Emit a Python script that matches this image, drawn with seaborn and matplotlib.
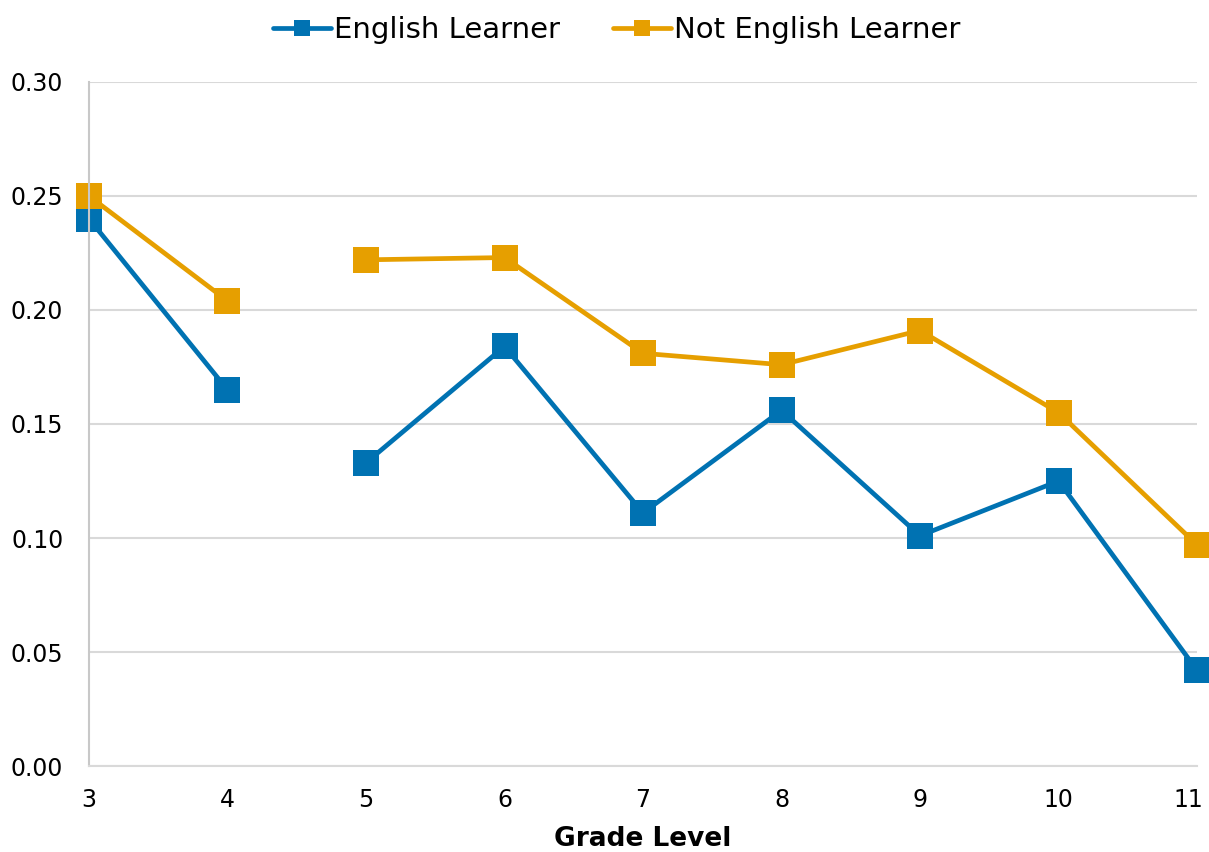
import pandas as pd
import seaborn as sns
import matplotlib.pyplot as plt
import matplotlib.transforms as mtransforms

grades = [3, 4, 5, 6, 7, 8, 9, 10, 11]
english_learner = [0.240, 0.165, 0.133, 0.184, 0.111, 0.156, 0.101, 0.125, 0.042]
not_english_learner = [0.250, 0.204, 0.222, 0.223, 0.181, 0.176, 0.191, 0.155, 0.097]
# the line breaks between grade 4 and grade 5
segments = [1, 1, 2, 2, 2, 2, 2, 2, 2]

groups = ['English Learner', 'Not English Learner']
colors = ['#0072B2', '#E69F00']

rows = []
for name, vals in zip(groups, [english_learner, not_english_learner]):
    for g, v, s in zip(grades, vals, segments):
        rows.append({'grade': g, 'value': v, 'group': name, 'segment': s})
df = pd.DataFrame(rows)

sns.set_style('white')
plt.rcParams['font.family'] = ['DejaVu Sans']
plt.rcParams['text.color'] = 'black'
plt.rcParams['axes.labelcolor'] = 'black'

fig = plt.figure(figsize=(12.09, 8.52), dpi=100)
ax = fig.add_axes([0.0736, 0.1009, 0.9165, 0.8029])

sns.lineplot(data=df, x='grade', y='value', hue='group', units='segment',
             estimator=None, palette=colors, marker='s', markersize=19,
             markeredgewidth=0, linewidth=3.4, ax=ax, legend=False, clip_on=False)

yticks = [0, 0.05, 0.10, 0.15, 0.20, 0.25, 0.30]
ax.set_xlim(3, 11)
ax.set_ylim(0, 0.30)
ax.set_yticks(yticks)
ax.set_yticklabels([f'{t:.2f}' for t in yticks])
ax.set_xticks(grades)
ax.grid(axis='y', color='#d9d9d9', linewidth=1.5)
ax.set_axisbelow(True)
for side in ['top', 'right']:
    ax.spines[side].set_visible(False)
ax.spines['left'].set_color('#c8c8c8')
ax.spines['left'].set_linewidth(1.5)
ax.spines['bottom'].set_color('#d9d9d9')
ax.spines['bottom'].set_linewidth(1.5)
ax.tick_params(axis='y', length=6.5, width=1.5, color='#c8c8c8', labelsize=17, pad=12,
               labelcolor='black')
ax.tick_params(axis='x', length=0, labelsize=17, pad=16, labelcolor='black')
ax.set_xlabel('Grade Level', fontsize=19, fontweight='bold', labelpad=10, color='black')
ax.set_ylabel('')

# last grade label sits at the figure edge, nudge it inside
last = ax.get_xticklabels()[-1]
last.set_transform(last.get_transform() + mtransforms.ScaledTranslation(-6 / 72, 0, fig.dpi_scale_trans))

handles = [plt.Line2D([], [], color=c, marker='s', markersize=12, linewidth=3.4,
                      markeredgewidth=0) for c in colors]
fig.legend(handles, groups, loc='upper center', bbox_to_anchor=(0.51, 1.012), ncol=2,
           frameon=False, fontsize=21, handlelength=2.0, handletextpad=0.1,
           columnspacing=1.8, labelcolor='black')

fig.savefig('out.png', dpi=100)
